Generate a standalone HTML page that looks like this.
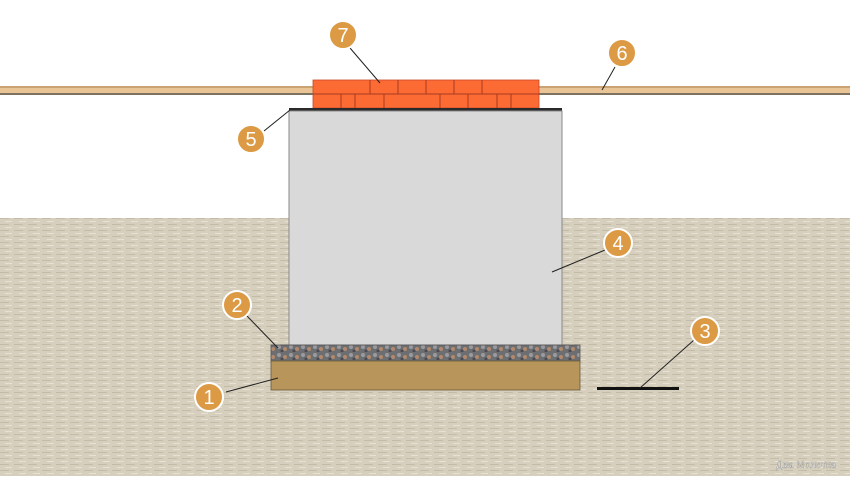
<!DOCTYPE html>
<html><head><meta charset="utf-8"><style>
body{margin:0;width:850px;height:476px;overflow:hidden;background:#fff;font-family:"Liberation Sans",sans-serif}
</style></head><body>
<svg width="850" height="476" viewBox="0 0 850 476" xmlns="http://www.w3.org/2000/svg">
<defs>
<pattern id="soil" width="14" height="6" patternUnits="userSpaceOnUse">
<rect width="14" height="6" fill="#d6cfbd"/>
<rect x="0" y="2" width="9" height="1" fill="#c4bca6"/>
<rect x="5" y="5" width="7" height="1" fill="#e6e1d3"/>
</pattern>
<pattern id="grav" width="12" height="8" patternUnits="userSpaceOnUse">
<rect width="12" height="8" fill="#6d6e72"/>
<circle cx="3" cy="3" r="2" fill="#9a9aa0"/>
<circle cx="9" cy="5" r="2" fill="#b08a6a"/>
<circle cx="6" cy="7" r="1.5" fill="#4a4a50"/>
</pattern>
</defs>
<rect x="0" y="218" width="850" height="258" fill="url(#soil)"/>
<!-- board -->
<rect x="0" y="86" width="850" height="9" fill="#e8c496"/>
<rect x="0" y="86" width="850" height="2" fill="#c9a374"/>
<rect x="0" y="93" width="850" height="2" fill="#7d7160"/>
<!-- bricks -->
<rect x="313" y="80" width="226" height="28" fill="#fd6b35" stroke="#c8482a" stroke-width="0.8"/>
<line x1="313" y1="94" x2="539" y2="94" stroke="#a83a20" stroke-width="1"/>
<g stroke="#a83a20" stroke-width="1">
<line x1="370" y1="80" x2="370" y2="94"/><line x1="398" y1="80" x2="398" y2="94"/><line x1="426" y1="80" x2="426" y2="94"/><line x1="454" y1="80" x2="454" y2="94"/><line x1="482" y1="80" x2="482" y2="94"/>
<line x1="341" y1="94" x2="341" y2="108"/><line x1="355" y1="94" x2="355" y2="108"/><line x1="384" y1="94" x2="384" y2="108"/><line x1="440" y1="94" x2="440" y2="108"/><line x1="468" y1="94" x2="468" y2="108"/><line x1="497" y1="94" x2="497" y2="108"/><line x1="511" y1="94" x2="511" y2="108"/>
</g>
<rect x="289" y="108" width="273" height="3" fill="#2a2a2a"/>
<rect x="289" y="111" width="273" height="234" fill="#d9d9d9" stroke="#8a8a8a" stroke-width="1"/>
<rect x="271" y="345" width="309" height="16" fill="url(#grav)" stroke="#555" stroke-width="0.8"/>
<rect x="271" y="361" width="309" height="29" fill="#b8955a" stroke="#6b5a3a" stroke-width="0.8"/>
<rect x="597" y="387" width="82" height="3" fill="#111"/>
<g stroke="#222" stroke-width="1">
<line x1="350" y1="48" x2="380" y2="83"/>
<line x1="615" y1="67" x2="602" y2="90"/>
<line x1="264" y1="131" x2="290" y2="110"/>
<line x1="605" y1="250" x2="552" y2="272"/>
<line x1="694" y1="340" x2="640" y2="388"/>
<line x1="247" y1="316" x2="278" y2="348"/>
<line x1="226" y1="392" x2="278" y2="378"/>
</g>
<g fill="#dc9a45" stroke="#fff" stroke-width="2">
<circle cx="343" cy="35" r="14"/><circle cx="622" cy="53" r="14"/><circle cx="251" cy="139" r="14"/><circle cx="618" cy="243" r="14"/><circle cx="705" cy="331" r="14"/><circle cx="237" cy="305" r="14"/><circle cx="209" cy="397" r="14"/>
</g>
<g fill="#fff" font-size="20" text-anchor="middle" font-family="Liberation Sans,sans-serif">
<text x="343" y="42">7</text><text x="622" y="60">6</text><text x="251" y="146">5</text><text x="618" y="250">4</text><text x="705" y="338">3</text><text x="237" y="312">2</text><text x="209" y="404">1</text>
</g>
<text x="776" y="468" font-size="10" fill="#fff" stroke="#777" stroke-width="0.3">Два Молотка</text>
</svg>
</body></html>
